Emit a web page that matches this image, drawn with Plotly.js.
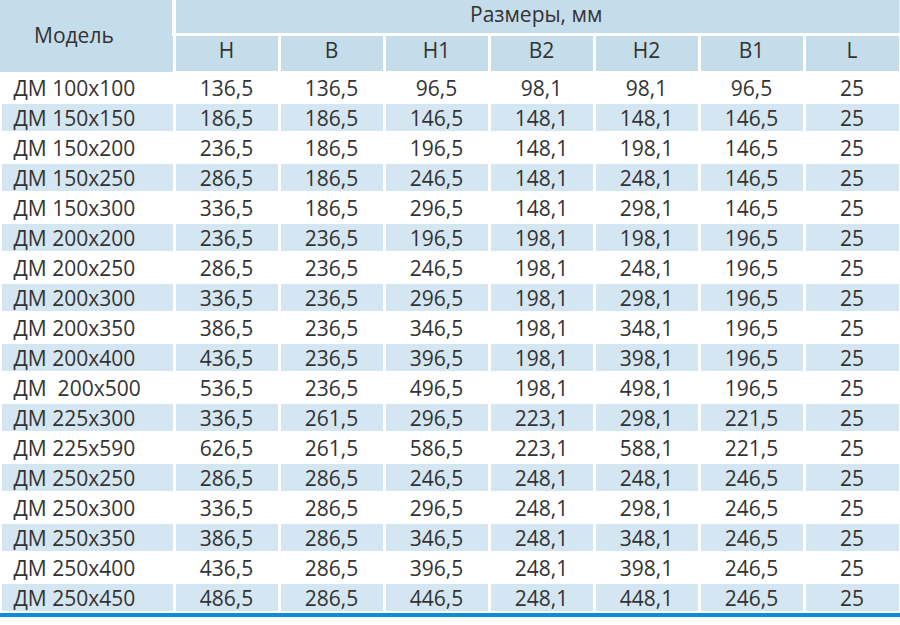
<!DOCTYPE html>
<html>
<head>
<meta charset="utf-8">
<script src="https://cdn.plot.ly/plotly-3.0.1.min.js"></script>
<style>html,body{margin:0;padding:0;background:#fff;}#chart{width:900px;height:625px;}</style>
</head>
<body>
<div id="chart"></div>
<script>
var groupTitle = "Размеры, мм";
var modelTitle = "Модель";
var columnLabels = ["H", "B", "H1", "B2", "H2", "B1", "L"];
var models = ["ДМ 100x100","ДМ 150x150","ДМ 150x200","ДМ 150x250","ДМ 150x300","ДМ 200x200","ДМ 200x250","ДМ 200x300","ДМ 200x350","ДМ 200x400","ДМ\u00a0 200x500","ДМ 225x300","ДМ 225x590","ДМ 250x250","ДМ 250x300","ДМ 250x350","ДМ 250x400","ДМ 250x450"];
var colH  = ["136,5","186,5","236,5","286,5","336,5","236,5","286,5","336,5","386,5","436,5","536,5","336,5","626,5","286,5","336,5","386,5","436,5","486,5"];
var colB  = ["136,5","186,5","186,5","186,5","186,5","236,5","236,5","236,5","236,5","236,5","236,5","261,5","261,5","286,5","286,5","286,5","286,5","286,5"];
var colH1 = ["96,5","146,5","196,5","246,5","296,5","196,5","246,5","296,5","346,5","396,5","496,5","296,5","586,5","246,5","296,5","346,5","396,5","446,5"];
var colB2 = ["98,1","148,1","148,1","148,1","148,1","198,1","198,1","198,1","198,1","198,1","198,1","223,1","223,1","248,1","248,1","248,1","248,1","248,1"];
var colH2 = ["98,1","148,1","198,1","248,1","298,1","198,1","248,1","298,1","348,1","398,1","498,1","298,1","588,1","248,1","298,1","348,1","398,1","448,1"];
var colB1 = ["96,5","146,5","146,5","146,5","146,5","196,5","196,5","196,5","196,5","196,5","196,5","221,5","221,5","246,5","246,5","246,5","246,5","246,5"];
var colL  = ["25","25","25","25","25","25","25","25","25","25","25","25","25","25","25","25","25","25"];

var HEAD = "#c5dcea", ROW = "#d4e6f2", WHITE = "#ffffff", TXT = "#333333";
var FONT = "Open Sans, sans-serif";
var FS = 21;

function py(p){ return 1 - p / 625; }
function px(p){ return p / 900; }

var dataCols = [models.map(function(m){return "\u00a0" + m;}), colH, colB, colH1, colB2, colH2, colB1, colL];
var rowFill = models.map(function(_, i){ return i % 2 === 0 ? WHITE : ROW; });
var cellFill = dataCols.map(function(){ return rowFill; });

var mainTable = {
  type: "table",
  domain: {x: [0, 1], y: [0, py(34)]},
  columnwidth: [174, 105, 105, 105, 105, 105, 105, 96],
  header: {
    values: [""].concat(columnLabels),
    align: "center",
    height: 38,
    fill: {color: HEAD},
    line: {color: WHITE, width: 3},
    font: {family: FONT, size: FS, color: TXT}
  },
  cells: {
    values: dataCols,
    align: ["left", "center", "center", "center", "center", "center", "center", "center"],
    height: 30,
    fill: {color: cellFill},
    line: {color: WHITE, width: 3},
    font: {family: FONT, size: FS, color: TXT}
  }
};

var groupHeader = {
  type: "table",
  domain: {x: [px(175.5), 1], y: [py(120), 1]},
  header: {
    values: [""],
    height: 33,
    fill: {color: HEAD},
    line: {color: HEAD, width: 0},
    font: {family: FONT, size: FS, color: TXT}
  },
  cells: {values: [[]], height: 1, line: {width: 0}}
};

var modelHeader = {
  type: "table",
  domain: {x: [0, px(172.5)], y: [py(160), 1]},
  header: {
    values: [""],
    height: 71.5,
    fill: {color: HEAD},
    line: {color: HEAD, width: 0},
    font: {family: FONT, size: FS, color: TXT}
  },
  cells: {values: [[]], height: 1, line: {width: 0}}
};

var layout = {
  width: 900, height: 625,
  margin: {l: 0, r: 0, t: 0, b: 0},
  paper_bgcolor: "#ffffff",
  showlegend: false,
  annotations: [
    {xref: "paper", yref: "paper", x: px(73.5), y: py(35.5), text: modelTitle, showarrow: false,
     xanchor: "center", yanchor: "middle", font: {family: FONT, size: FS, color: TXT}},
    {xref: "paper", yref: "paper", x: px(536), y: py(14.5), text: groupTitle, showarrow: false,
     xanchor: "center", yanchor: "middle", font: {family: FONT, size: FS, color: TXT}}
  ],
  shapes: [
    {type: "rect", xref: "paper", yref: "paper", x0: 0, x1: 1, y0: py(617), y1: py(613),
     fillcolor: "#0a8ed6", line: {width: 0}}
  ]
};

Plotly.newPlot("chart", [mainTable, groupHeader, modelHeader], layout, {displayModeBar: false, staticPlot: true});
</script>
</body>
</html>
